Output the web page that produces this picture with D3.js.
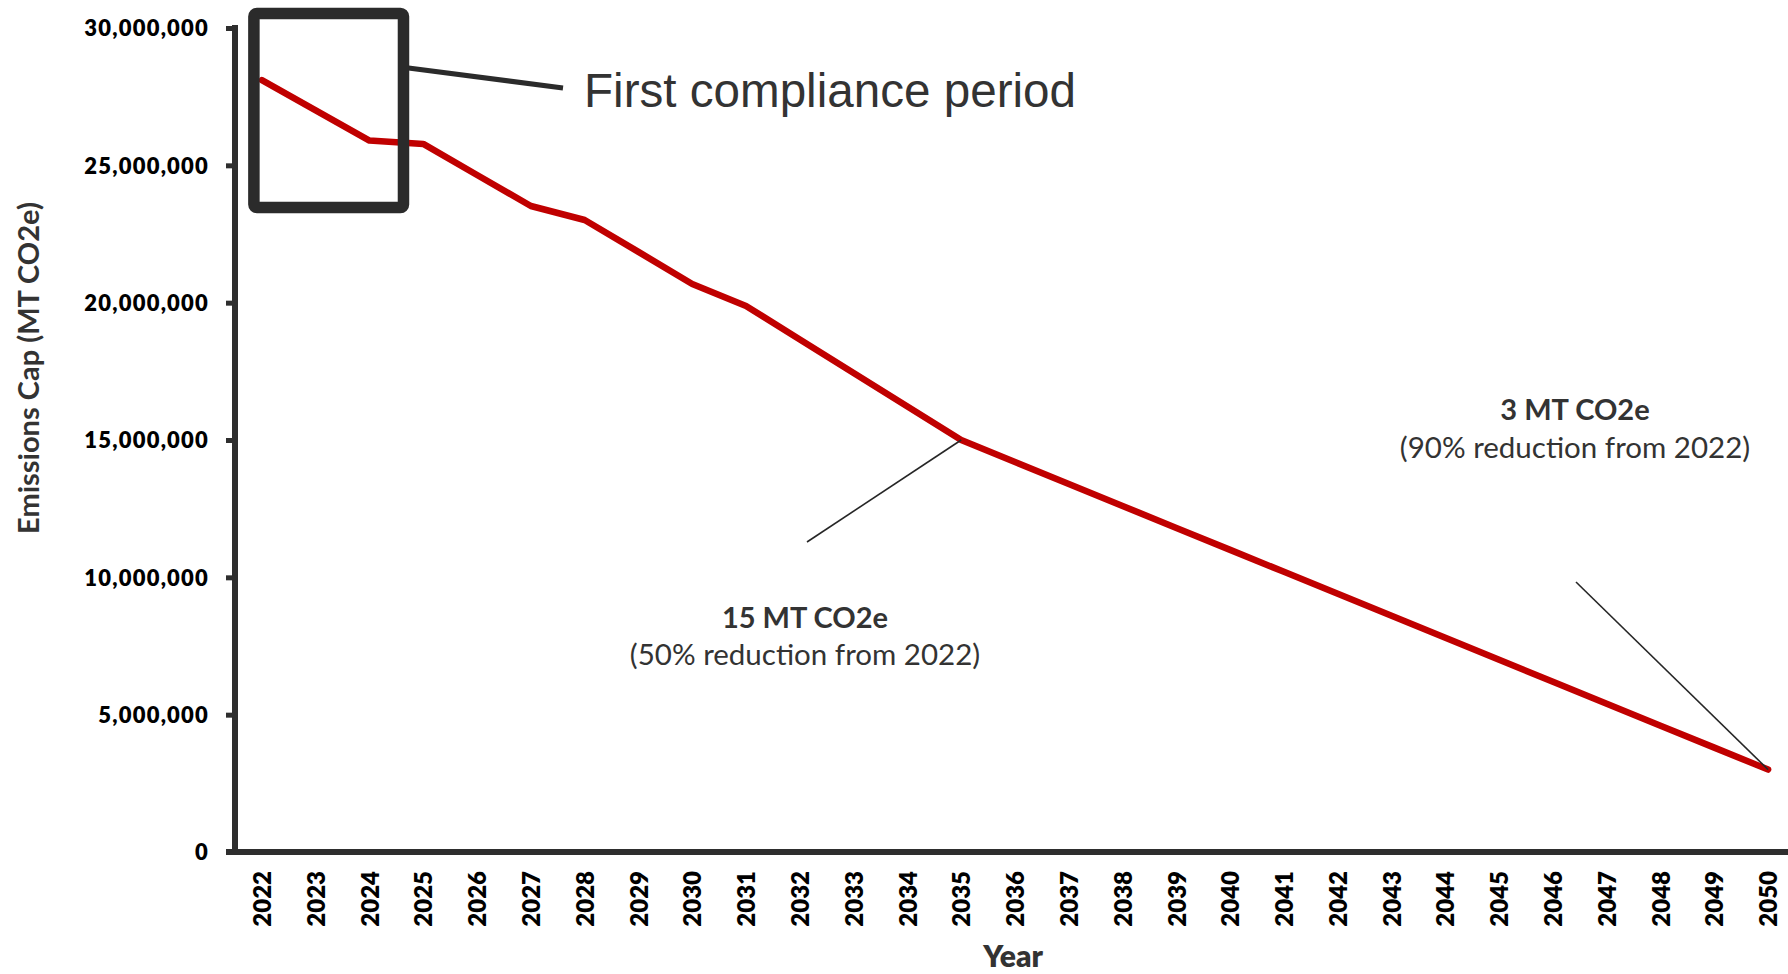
<!DOCTYPE html>
<html>
<head>
<meta charset="utf-8">
<script src="https://cdn.jsdelivr.net/npm/d3@7"></script>
<style>
  html, body { margin: 0; padding: 0; background: #ffffff; }
  svg { display: block; }
</style>
</head>
<body>
<svg id="chart" width="1788" height="974"></svg>
<script>
// Emissions cap trajectory, 2022-2050 (metric tonnes CO2e)
const years = [
  2022, 2023, 2024, 2025, 2026, 2027, 2028, 2029, 2030, 2031,
  2032, 2033, 2034, 2035, 2036, 2037, 2038, 2039, 2040, 2041,
  2042, 2043, 2044, 2045, 2046, 2047, 2048, 2049, 2050
];
const capValues = [
  28100000, 27000000, 25900000, 25780000, 24650000, 23520000, 23010000, 21850000, 20680000, 19880000,
  18660000, 17440000, 16220000, 15000000, 14200000, 13400000, 12600000, 11800000, 11000000, 10200000,
  9400000, 8600000, 7800000, 7000000, 6200000, 5400000, 4600000, 3800000, 3000000
];
const yTickValues = [0, 5000000, 10000000, 15000000, 20000000, 25000000, 30000000];

// Callouts pinned to a year on the line
const calloutYears = [2035, 2050];
const calloutTitles = ["15 MT CO2e", "3 MT CO2e"];
const calloutNotes = ["(50% reduction from 2022)", "(90% reduction from 2022)"];
const periodLabel = "First compliance period";
const periodYears = [2022, 2024];

const svg = d3.select("#chart");
const axisColor = "#2e2e2e";
const textGrey = "#333333";

const x = d3.scalePoint().domain(years).range([235, 1795]).padding(0.5);
const y = d3.scaleLinear().domain([0, 30000000]).range([852, 28]);

// ---- Y axis ----
const yAxis = svg.append("g")
  .attr("transform", "translate(235,0)")
  .call(d3.axisLeft(y).tickValues(yTickValues).tickFormat(d3.format(",")).tickSize(9).tickSizeOuter(0));
yAxis.select(".domain").attr("stroke", axisColor).attr("stroke-width", 6)
  .attr("d", `M0,${y(0) + 3}V${y(30000000) - 3}`);
yAxis.selectAll(".tick line").attr("stroke", axisColor).attr("stroke-width", 5);
yAxis.selectAll(".tick text")
  .attr("x", -26)
  .attr("dy", "0.35em")
  .attr("fill", "#000")
  .style("font-family", "Lato, 'Noto Sans', sans-serif")
  .style("font-weight", "800")
  .style("font-size", "22px")
  .style("letter-spacing", "1.2px");

// ---- X axis ----
const xAxis = svg.append("g")
  .attr("transform", `translate(0,${y(0)})`)
  .call(d3.axisBottom(x).tickSize(0).tickSizeOuter(0));
xAxis.select(".domain").attr("stroke", axisColor).attr("stroke-width", 6)
  .attr("d", `M226,0H1795`);
xAxis.selectAll(".tick text")
  .attr("transform", "rotate(-90)")
  .attr("x", -19)
  .attr("y", 0)
  .attr("dy", "0.36em")
  .attr("text-anchor", "end")
  .attr("fill", "#000")
  .style("font-family", "Lato, 'Noto Sans', sans-serif")
  .style("font-weight", "800")
  .style("font-size", "24px");

// ---- Axis titles ----
svg.append("text")
  .attr("transform", "translate(39,368) rotate(-90)")
  .attr("text-anchor", "middle")
  .attr("fill", textGrey)
  .style("font-family", "Lato, 'Noto Sans', sans-serif")
  .style("font-weight", "700")
  .style("font-size", "29px")
  .text("Emissions Cap (MT CO2e)");

svg.append("text")
  .attr("x", 1013)
  .attr("y", 967)
  .attr("text-anchor", "middle")
  .attr("fill", textGrey)
  .style("font-family", "Lato, 'Noto Sans', sans-serif")
  .style("font-weight", "800")
  .style("font-size", "30px")
  .text("Year");

// ---- Cap line ----
const series = years.map((yr, i) => ({ year: yr, value: capValues[i] }));
const line = d3.line().x(d => x(d.year)).y(d => y(d.value));
svg.append("path")
  .datum(series)
  .attr("fill", "none")
  .attr("stroke", "#C00000")
  .attr("stroke-width", 6.5)
  .attr("stroke-linejoin", "round")
  .attr("stroke-linecap", "round")
  .attr("d", line);

// ---- Callouts ----
const valueAt = yr => capValues[years.indexOf(yr)];
const calloutAnchors = [[807, 542], [1576, 582]];
const calloutText = [[805, 628, 665], [1575, 420, 458]];
calloutYears.forEach((yr, i) => {
  svg.append("line")
    .attr("x1", x(yr)).attr("y1", y(valueAt(yr)))
    .attr("x2", calloutAnchors[i][0]).attr("y2", calloutAnchors[i][1])
    .attr("stroke", "#262626")
    .attr("stroke-width", 1.6);
  const [cx, by1, by2] = calloutText[i];
  svg.append("text")
    .attr("x", cx).attr("y", by1)
    .attr("text-anchor", "middle")
    .attr("fill", textGrey)
    .style("font-family", "Lato, 'Noto Sans', sans-serif")
    .style("font-weight", "700")
    .style("font-size", "29px")
    .text(calloutTitles[i]);
  svg.append("text")
    .attr("x", cx).attr("y", by2)
    .attr("text-anchor", "middle")
    .attr("fill", textGrey)
    .style("font-family", "Lato, 'Noto Sans', sans-serif")
    .style("font-weight", "400")
    .style("font-size", "29.5px")
    .text(calloutNotes[i]);
});

// ---- First compliance period frame ----
const frameLeft = x(periodYears[0]) - 8;
const frameRight = x(periodYears[1]) + 34;
svg.append("rect")
  .attr("x", frameLeft)
  .attr("y", 13.5)
  .attr("width", frameRight - frameLeft)
  .attr("height", 194)
  .attr("rx", 3)
  .attr("fill", "none")
  .attr("stroke", "#2b2b2b")
  .attr("stroke-width", 11.5);
svg.append("line")
  .attr("x1", frameRight + 5).attr("y1", 68)
  .attr("x2", 563).attr("y2", 88)
  .attr("stroke", "#2b2b2b")
  .attr("stroke-width", 5);
svg.append("text")
  .attr("x", 584)
  .attr("y", 107)
  .attr("fill", textGrey)
  .style("font-family", "'Liberation Sans', Arial, sans-serif")
  .style("font-size", "47.6px")
  .text(periodLabel);
</script>
</body>
</html>
